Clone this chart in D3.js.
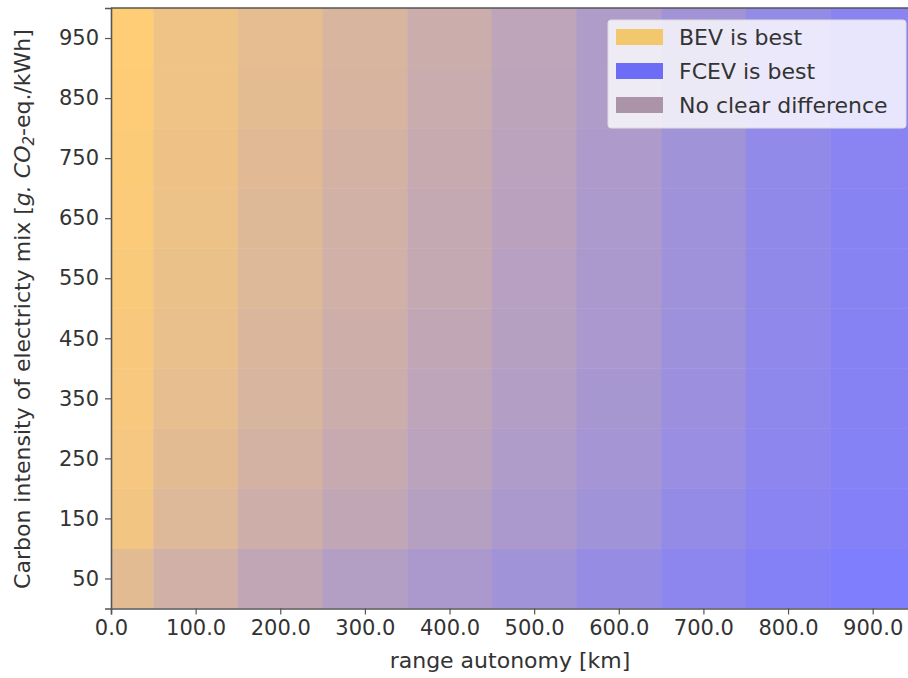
<!DOCTYPE html>
<html>
<head>
<meta charset="utf-8">
<script src="https://cdn.jsdelivr.net/npm/d3@7"></script>
<style>
  body { margin: 0; background: #fff; }
  text { font-family: "DejaVu Sans", sans-serif; fill: #333; }
</style>
</head>
<body>
<script>
// range autonomy (cell centres, km)
var ranges = [0, 100, 200, 300, 400, 500, 600, 700, 800, 900];
// carbon intensity bins (lower edge, g CO2-eq/kWh)
var intensities = [0, 100, 200, 300, 400, 500, 600, 700, 800, 900];
var yTicks = [50, 150, 250, 350, 450, 550, 650, 750, 850, 950];
// share of FCEV advantage per cell, rows follow intensities (0 = BEV best, 1 = FCEV best)
var row0 = [0.22, 0.36, 0.47, 0.57, 0.64, 0.72, 0.80, 0.88, 0.94, 0.98];
var row100 = [0.10, 0.26, 0.38, 0.47, 0.56, 0.64, 0.72, 0.82, 0.90, 0.95];
var row200 = [0.08, 0.22, 0.33, 0.43, 0.52, 0.60, 0.69, 0.78, 0.88, 0.93];
var row300 = [0.06, 0.19, 0.30, 0.40, 0.50, 0.58, 0.67, 0.76, 0.86, 0.92];
var row400 = [0.05, 0.17, 0.28, 0.38, 0.47, 0.56, 0.65, 0.74, 0.85, 0.92];
var row500 = [0.04, 0.15, 0.26, 0.36, 0.45, 0.55, 0.64, 0.73, 0.84, 0.91];
var row600 = [0.03, 0.14, 0.25, 0.35, 0.44, 0.53, 0.63, 0.73, 0.84, 0.91];
var row700 = [0.02, 0.13, 0.23, 0.33, 0.43, 0.52, 0.62, 0.72, 0.83, 0.90];
var row800 = [0.01, 0.12, 0.21, 0.31, 0.41, 0.51, 0.61, 0.71, 0.82, 0.90];
var row900 = [0.00, 0.12, 0.20, 0.30, 0.40, 0.50, 0.60, 0.71, 0.82, 0.90];
var rows = [row0, row100, row200, row300, row400, row500, row600, row700, row800, row900];

var legendLabels = ["BEV is best", "FCEV is best", "No clear difference"];
var legendColors = ["#f3c76c", "#6c6cf6", "#ab94a8"];

var W = 908, H = 678;

var x = d3.scaleLinear().domain([0, 950]).range([111, 915]);
var y = d3.scaleLinear().domain([0, 1000]).range([608.5, 8]);
var color = d3.scaleLinear().domain([0, 1])
    .range(["#ffcd75", "#7c7cff"])
    .interpolate(d3.interpolateRgb);

var svg = d3.select("body").append("svg")
    .attr("width", W)
    .attr("height", H);

svg.append("rect").attr("width", W).attr("height", H).attr("fill", "#fff");

svg.append("clipPath").attr("id", "plotclip")
    .append("rect")
    .attr("x", x(0)).attr("y", y(1000))
    .attr("width", x(950) - x(0)).attr("height", y(0) - y(1000));

var cells = [];
rows.forEach(function(r, i) {
    r.forEach(function(v, j) {
        cells.push({r: ranges[j], c: intensities[i], v: v});
    });
});

svg.append("g")
    .attr("clip-path", "url(#plotclip)")
    .selectAll("rect")
    .data(cells)
    .enter().append("rect")
    .attr("x", d => x(Math.max(0, d.r - 50)))
    .attr("width", d => x(d.r + 50) - x(Math.max(0, d.r - 50)) + 0.5)
    .attr("y", d => y(d.c + 100))
    .attr("height", d => y(d.c) - y(d.c + 100) + 0.5)
    .attr("fill", d => color(d.v));

// axes
var xAxis = svg.append("g")
    .attr("transform", "translate(0," + y(0) + ")")
    .call(d3.axisBottom(x).tickValues(ranges).tickFormat(d3.format(".1f")).tickSize(6).tickPadding(6));
var yAxis = svg.append("g")
    .attr("transform", "translate(" + x(0) + ",0)")
    .call(d3.axisLeft(y).tickValues(yTicks).tickSize(6).tickPadding(6));

[xAxis, yAxis].forEach(function(a) {
    a.select(".domain").attr("stroke", "#555").attr("stroke-width", 1.6);
    a.selectAll(".tick line").attr("stroke", "#555").attr("stroke-width", 1.2);
    a.selectAll(".tick text").style("font-size", "21px").attr("fill", "#333");
});

// top spine
svg.append("line")
    .attr("x1", x(0)).attr("x2", W)
    .attr("y1", y(1000)).attr("y2", y(1000))
    .attr("stroke", "#555").attr("stroke-width", 1.6);

// axis labels
svg.append("text")
    .attr("x", 510).attr("y", 668)
    .attr("text-anchor", "middle")
    .style("font-size", "22px")
    .text("range autonomy [km]");

var yl = svg.append("text")
    .attr("transform", "translate(30," + 309 + ") rotate(-90)")
    .attr("text-anchor", "middle")
    .style("font-size", "22px");
yl.append("tspan").text("Carbon intensity of electricty mix [");
yl.append("tspan").style("font-style", "italic").text("g. CO");
yl.append("tspan").style("font-style", "italic").style("font-size", "15px").attr("dy", 4).text("2");
yl.append("tspan").attr("dy", -4).text("-eq./kWh]");

// legend
var lg = svg.append("g").attr("transform", "translate(608,20)");
lg.append("rect")
    .attr("width", 298).attr("height", 108)
    .attr("rx", 3)
    .attr("fill", "#fff").attr("fill-opacity", 0.8)
    .attr("stroke", "#ddd");
legendLabels.forEach(function(l, i) {
    lg.append("rect")
        .attr("x", 8).attr("y", 9 + i * 34)
        .attr("width", 47).attr("height", 16)
        .attr("fill", legendColors[i]);
    lg.append("text")
        .attr("x", 71).attr("y", 17 + i * 34)
        .attr("dy", "0.35em")
        .style("font-size", "22px")
        .text(l);
});
</script>
</body>
</html>
